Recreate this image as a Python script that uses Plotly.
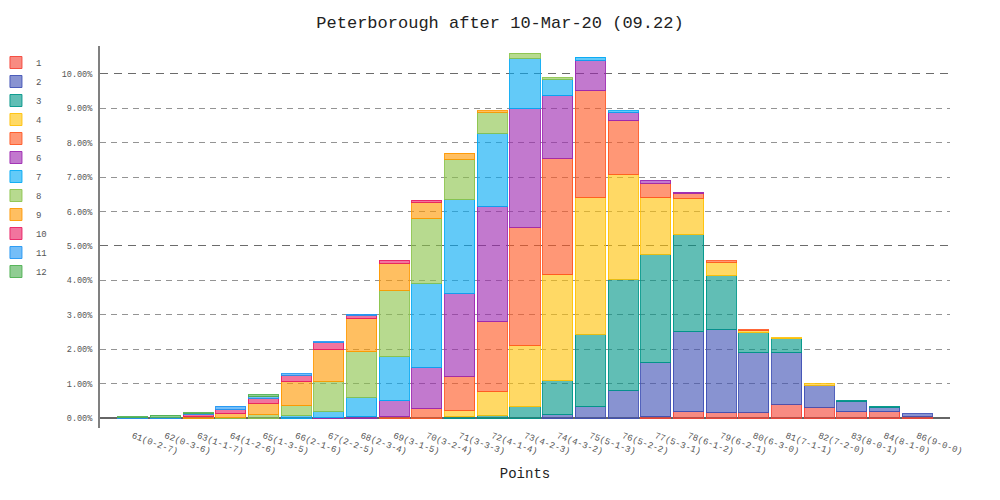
import plotly.graph_objects as go

categories = ["61(0-2-7)", "62(0-3-6)", "63(1-1-7)", "64(1-2-6)", "65(1-3-5)", "66(2-1-6)",
              "67(2-2-5)", "68(2-3-4)", "69(3-1-5)", "70(3-2-4)", "71(3-3-3)", "72(4-1-4)",
              "73(4-2-3)", "74(4-3-2)", "75(5-1-3)", "76(5-2-2)", "77(5-3-1)", "78(6-1-2)",
              "79(6-2-1)", "80(6-3-0)", "81(7-1-1)", "82(7-2-0)", "83(8-0-1)", "84(8-1-0)",
              "86(9-0-0)"]

# percentage values per series (index aligned with categories)
s1 = [0, 0, 0, 0, 0, 0, 0, 0, 0, 0, 0, 0, 0, 0, 0, 0, 0.04, 0.18, 0.155, 0.175, 0.40, 0.31, 0.185, 0.185, 0.05]
s2 = [0, 0, 0, 0, 0, 0, 0, 0, 0, 0, 0, 0, 0, 0.10, 0.33, 0.81, 1.56, 2.33, 2.42, 1.715, 1.50, 0.64, 0.30, 0.125, 0.075]
s3 = [0, 0, 0, 0, 0, 0, 0, 0, 0, 0, 0.04, 0.08, 0.33, 0.985, 2.10, 3.22, 3.16, 2.81, 1.56, 0.59, 0.40, 0, 0.035, 0.035, 0]
s4 = [0, 0, 0, 0, 0, 0, 0, 0, 0, 0, 0.17, 0.69, 1.78, 3.075, 3.98, 3.05, 1.645, 1.065, 0.395, 0.05, 0.035, 0.04, 0, 0, 0]
s5 = [0, 0, 0, 0, 0, 0, 0, 0, 0.04, 0.27, 1.01, 2.03, 3.43, 3.39, 3.10, 1.56, 0.415, 0.145, 0.045, 0.04, 0, 0, 0, 0, 0]
s6 = [0, 0, 0, 0, 0, 0, 0.02, 0.04, 0.46, 1.20, 2.40, 3.36, 3.44, 1.81, 0.88, 0.245, 0.095, 0.03, 0, 0, 0, 0, 0, 0, 0]
s7 = [0, 0, 0, 0, 0, 0.07, 0.18, 0.56, 1.28, 2.445, 2.72, 2.12, 1.47, 0.485, 0.095, 0.04, 0, 0, 0, 0, 0, 0, 0, 0, 0]
s8 = [0, 0, 0, 0.02, 0.09, 0.28, 0.87, 1.33, 1.93, 1.87, 1.18, 0.60, 0.15, 0.045, 0, 0, 0, 0, 0, 0, 0, 0, 0, 0, 0]
s9 = [0, 0, 0.03, 0.10, 0.34, 0.70, 0.91, 0.95, 0.79, 0.485, 0.17, 0.05, 0, 0, 0, 0, 0, 0, 0, 0, 0, 0, 0, 0, 0]
s10 = [0, 0, 0.08, 0.12, 0.15, 0.20, 0.21, 0.10, 0.08, 0.06, 0, 0, 0, 0, 0, 0, 0, 0, 0, 0, 0, 0, 0, 0, 0]
s11 = [0.01, 0.02, 0.01, 0.10, 0.04, 0.04, 0.03, 0.04, 0, 0, 0, 0, 0, 0, 0, 0, 0, 0, 0, 0, 0, 0, 0, 0, 0]
s12 = [0.02, 0.06, 0.035, 0, 0.05, 0, 0, 0, 0, 0, 0, 0, 0, 0, 0, 0, 0, 0, 0, 0, 0, 0, 0, 0, 0]

series_names = ["1", "2", "3", "4", "5", "6", "7", "8", "9", "10", "11", "12"]
series_values = [s1, s2, s3, s4, s5, s6, s7, s8, s9, s10, s11, s12]
colors = ["#F44336", "#3F51B5", "#009688", "#FFC107", "#FF5722", "#9C27B0",
          "#03A9F4", "#8BC34A", "#FF9800", "#E91E63", "#2196F3", "#4CAF50"]
y_ticks = [0, 1, 2, 3, 4, 5, 6, 7, 8, 9, 10]
major_ticks = [5, 10]
minor_ticks = [1, 2, 3, 4, 6, 7, 8, 9]

FONT = "Liberation Mono, DejaVu Sans Mono, monospace"
Y_RANGE = [-0.29, 10.81]


def rgba(hexc, a):
    h = hexc.lstrip("#")
    return "rgba(%d,%d,%d,%.2f)" % (int(h[0:2], 16), int(h[2:4], 16), int(h[4:6], 16), a)


fig = go.Figure()
# empty helper traces so that the two guide-line axes get drawn
for ax in ("y2", "y3"):
    fig.add_trace(go.Scatter(x=[], y=[], yaxis=ax, showlegend=False, hoverinfo="skip"))

for name, vals, col in zip(series_names, series_values, colors):
    fig.add_trace(go.Bar(
        x=categories,
        y=[v if v else None for v in vals],
        name=name,
        marker=dict(color=rgba(col, 0.62), line=dict(color=rgba(col, 0.9), width=1)),
    ))

# the page body adds an 8px offset, so margins are shifted by 8px
fig.update_layout(
    width=1000, height=500,
    barmode="stack", bargap=0.08,
    paper_bgcolor="white", plot_bgcolor="white",
    margin=dict(l=92, r=58, t=38, b=80, autoexpand=False),
    font=dict(family=FONT, color="#333"),
    title=dict(text="Peterborough after 10-Mar-20 (09.22)", x=0.492, xref="container",
               y=1 - 14 / 500, yref="container", yanchor="middle", xanchor="center",
               font=dict(size=17, color="#222", family=FONT)),
    legend=dict(xref="paper", yref="container", x=-0.1224, y=1 - 40 / 500,
                xanchor="left", yanchor="top", font=dict(size=9, color="#555", family=FONT),
                bgcolor="rgba(0,0,0,0)", traceorder="normal", itemwidth=30),
    showlegend=True,
    yaxis2=dict(overlaying="y", anchor="x", side="left", range=Y_RANGE, tickvals=major_ticks,
                showticklabels=False, ticks="", showline=False, zeroline=False,
                showgrid=True, gridcolor="rgba(0,0,0,0.58)", griddash="8px,6px", gridwidth=1.2),
    yaxis3=dict(overlaying="y", anchor="x", side="left", range=Y_RANGE, tickvals=minor_ticks,
                showticklabels=False, ticks="", showline=False, zeroline=False,
                showgrid=True, gridcolor="rgba(0,0,0,0.42)", griddash="6px,5px", gridwidth=1),
)

fig.update_xaxes(
    type="category", range=[-1, len(categories)], automargin=False,
    showgrid=False, showline=False, zeroline=False,
    tickangle=20, ticks="", tickfont=dict(size=9, color="#555", family=FONT),
    title=dict(text="Points", font=dict(size=14, color="#222", family=FONT), standoff=12),
)

fig.update_layout(yaxis=dict(
    range=Y_RANGE, automargin=False,
    tickvals=y_ticks, ticktext=["%.2f%%" % t for t in y_ticks],
    showgrid=False,
    showline=True, linecolor="#808080", linewidth=2,
    zeroline=True, zerolinecolor="#666", zerolinewidth=2,
    ticks="", ticklabelstandoff=4, tickfont=dict(size=8.5, color="#555", family=FONT),
))

fig.write_html("out.html")
